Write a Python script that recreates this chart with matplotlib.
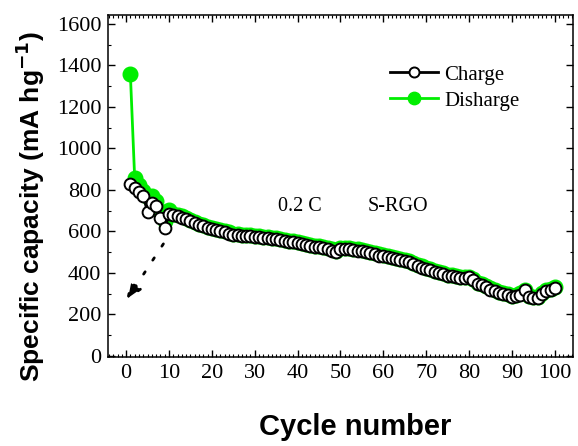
import matplotlib
matplotlib.use("Agg")
import matplotlib.pyplot as plt
from matplotlib.ticker import MultipleLocator

cycles = list(range(1, 101))
charge = [829, 810, 790, 771, 694, 737, 723, 665, 617, 684,
          680, 673, 667, 660, 652, 642, 632, 625, 618, 612,
          606, 601, 596, 590, 585, 582, 580, 578, 576, 574,
          572, 570, 567, 565, 562, 558, 555, 551, 547, 543,
          539, 535, 531, 527, 523, 519, 514, 508, 503, 513,
          516, 515, 512, 508, 504, 500, 495, 490, 484, 480,
          476, 472, 468, 463, 458, 451, 443, 434, 426, 418,
          412, 405, 399, 393, 387, 383, 380, 376, 374, 378,
          365, 348, 340, 330, 320, 312, 305, 298, 292, 286,
          290, 296, 316, 285, 280, 278, 300, 315, 320, 326]
discharge = [1358, 858, 825, 795, 768, 772, 748, 700, 648, 705,
             686, 679, 672, 665, 657, 647, 637, 630, 623, 617,
             611, 606, 601, 595, 590, 587, 585, 583, 581, 579,
             577, 575, 572, 570, 567, 563, 560, 556, 552, 548,
             544, 540, 536, 532, 528, 524, 519, 513, 508, 518,
             521, 520, 517, 513, 509, 505, 500, 495, 489, 485,
             481, 477, 473, 468, 463, 456, 448, 439, 431, 423,
             417, 410, 404, 398, 392, 388, 385, 381, 379, 382,
             370, 353, 345, 335, 325, 317, 310, 303, 297, 291,
             295, 301, 320, 290, 285, 283, 304, 319, 324, 330]

x_ticks = [0, 10, 20, 30, 40, 50, 60, 70, 80, 90, 100]
y_ticks = [0, 200, 400, 600, 800, 1000, 1200, 1400, 1600]

serif = ["Liberation Serif", "DejaVu Serif"]
sans = ["Liberation Sans", "DejaVu Sans"]

fig = plt.figure(figsize=(5.78, 4.46), dpi=100)
ax = fig.add_axes([0.187, 0.1996, 0.804, 0.7668])

ax.plot(cycles, discharge, color="#00ee00", lw=2.0, marker="o", ms=10.5,
        mfc="#00ee00", mec="#00ee00", label="Disharge", zorder=2)
ax.plot(cycles, charge, color="black", lw=2.0, marker="o", ms=8.5,
        mfc="white", mec="black", mew=1.4, label="Charge", zorder=3)

ax.set_xlim(-4.2, 104.2)
ax.set_ylim(-5, 1643)
ax.set_xticks(x_ticks)
ax.set_yticks(y_ticks)
ax.xaxis.set_minor_locator(MultipleLocator(1))
ax.yaxis.set_minor_locator(MultipleLocator(100))
ax.tick_params(which="both", direction="in", top=True, right=True)
ax.tick_params(which="major", length=5, width=1.0, labelsize=16, pad=5)
ax.tick_params(which="minor", length=2.5, width=0.8)
for lab in ax.get_xticklabels() + ax.get_yticklabels():
    lab.set_family(serif)
for s in ax.spines.values():
    s.set_linewidth(1.1)

ax.set_xlabel("Cycle number", family=sans, fontweight="bold", fontsize=21)
ax.xaxis.set_label_coords(0.531, -0.163)
ax.set_ylabel("Specific capacity (mA hg$^{\\mathbf{-1}}$)", family=sans,
              fontweight="bold", fontsize=19)
ax.yaxis.set_label_coords(-0.132, 0.44)

ax.text(40.5, 718, "0.2 C", family=serif, fontsize=14.5, ha="center", va="center")
ax.text(63.4, 718, "S-RGO", family=serif, fontsize=14.5, ha="center", va="center")

ax.annotate("", xy=(0.0, 265), xytext=(8.7, 540),
            arrowprops=dict(arrowstyle="-|>,head_length=1.0,head_width=0.4",
                            color="black", lw=2, linestyle=(0, (1, 5)),
                            shrinkA=0, shrinkB=0))

h, l = ax.get_legend_handles_labels()
leg = ax.legend(h[::-1], l[::-1], loc="center", bbox_to_anchor=(0.746, 0.787),
                frameon=False, prop={"family": serif, "size": 15},
                handlelength=2.3, handletextpad=0.3, labelspacing=0.3,
                markerscale=0.85)

fig.savefig("out.png", dpi=100)
